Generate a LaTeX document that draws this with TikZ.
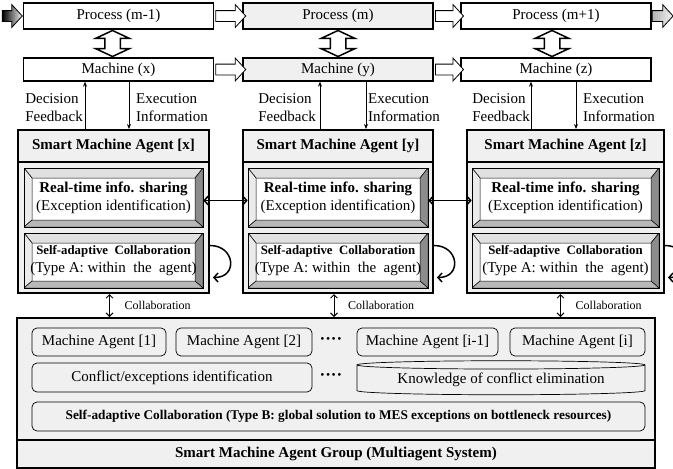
\documentclass[tikz,border=0pt]{standalone}
\usepackage{fontspec}
\setmainfont{Liberation Serif}
\usetikzlibrary{positioning,calc,arrows.meta,shapes.arrows,shapes.geometric}

\begin{document}
\begin{tikzpicture}[x=1pt,y=-1pt]
  \tikzstyle{every node}=[font=\fontsize{15}{18}\selectfont]
  \tikzstyle{stage}=[draw, line width=1.4pt, fill=white, minimum width=190pt, inner sep=0pt]
  \tikzstyle{flow}=[single arrow, draw, fill=white, line width=0.8pt, inner sep=5pt, single arrow head extend=6pt, single arrow tip angle=95]
  \tikzstyle{swap}=[double arrow, draw, fill=white, line width=1.5pt, inner sep=7pt, double arrow head extend=9pt, double arrow tip angle=130, rotate=90, minimum height=26pt]
  \tikzstyle{agent}=[draw, line width=2pt, fill=black!6, minimum height=163pt]
  \tikzstyle{head}=[draw, line width=2pt, fill=black!6, minimum height=32pt, font=\bfseries\fontsize{15}{18}\selectfont]
  \tikzstyle{bevel}=[draw, line width=0.6pt, fill=white, align=center, inner sep=0pt,
    path picture={
      \coordinate (bvA) at (path picture bounding box.north west);
      \coordinate (bvB) at (path picture bounding box.north east);
      \coordinate (bvC) at (path picture bounding box.south east);
      \coordinate (bvD) at (path picture bounding box.south west);
      \coordinate (bvE) at ($(bvA)+(8pt,-10pt)$);
      \coordinate (bvF) at ($(bvB)+(-8pt,-10pt)$);
      \coordinate (bvG) at ($(bvC)+(-8pt,7pt)$);
      \coordinate (bvH) at ($(bvD)+(8pt,7pt)$);
      \filldraw[fill=black!12, line width=0.5pt] (bvA) -- (bvB) -- (bvF) -- (bvE) -- cycle;
      \filldraw[fill=black!8, line width=0.5pt] (bvA) -- (bvE) -- (bvH) -- (bvD) -- cycle;
      \filldraw[fill=black!45, line width=0.5pt] (bvB) -- (bvC) -- (bvG) -- (bvF) -- cycle;
      \filldraw[fill=black!28, line width=0.5pt] (bvD) -- (bvH) -- (bvG) -- (bvC) -- cycle;
    }]
  \tikzstyle{info}=[line width=0.7pt, -{Stealth[length=5pt,width=4pt]}]
  \tikzstyle{lbl}=[inner sep=0pt, align=left]
  \tikzstyle{link}=[line width=1.5pt, {Straight Barb[length=4pt,width=9pt]}-{Straight Barb[length=4pt,width=9pt]}]
  \tikzstyle{selfloop}=[line width=1.5pt, -{Straight Barb[length=4pt,width=9pt]}]
  \tikzstyle{coop}=[line width=0.9pt, {Straight Barb[length=3.5pt,width=7pt]}-{Straight Barb[length=3.5pt,width=7pt]}]
  \tikzstyle{coopnote}=[anchor=west, inner sep=0pt, font=\fontsize{12}{14}\selectfont]
  \tikzstyle{group}=[draw, line width=2pt, fill=black!6, minimum width=638pt]
  \tikzstyle{unit}=[draw, rounded corners=5pt, fill=black!6, line width=0.7pt, minimum height=28pt, inner sep=0pt]
  \tikzstyle{ellip}=[inner sep=0pt, font=\bfseries\fontsize{17}{18}\selectfont]

  \useasboundingbox (0,0) rectangle (673,469);

  % processes and machines
  \node[stage, minimum height=26pt] (pm1) at (118.5,16) {Process (m-1)};
  \node[stage, minimum height=26pt, fill=black!6] (pm) at (338,16) {Process (m)};
  \node[stage, minimum height=26pt] (pp1) at (556,16) {Process (m+1)};
  \node[stage, minimum height=23pt] (mx) at (118.5,69.5) {Machine (x)};
  \node[stage, minimum height=23pt, fill=black!6] (my) at (338,69.5) {Machine (y)};
  \node[stage, minimum height=23pt] (mz) at (556,69.5) {Machine (z)};

  \node[flow, anchor=tip, minimum height=20pt, left color=black, middle color=black!35, right color=black!6] (inp) at (pm1.west) {};
  \node[flow, anchor=tail, minimum height=21pt, left color=black!30, right color=black!5] (outp) at (pp1.east) {};
  \node[flow, minimum height=30pt] (f1) at ($(pm1.east)!.5!(pm.west)$) {};
  \node[flow, minimum height=28pt] (f2) at ($(pm.east)!.5!(pp1.west)$) {};
  \node[flow, minimum height=30pt] (g1) at ($(mx.east)!.5!(my.west)$) {};
  \node[flow, minimum height=28pt] (g2) at ($(my.east)!.5!(mz.west)$) {};

  \node[swap] (s1) at ($(pm1.south)!.5!(mx.north)+(-6,0)$) {};
  \node[swap] (s2) at ($(pm.south)!.5!(my.north)$) {};
  \node[swap] (s3) at ($(pp1.south)!.5!(mz.north)+(-4,0)$) {};

  % smart machine agents
  \node[agent, minimum width=191pt] (agx) at (113.5,211.5) {};
  \node[head, minimum width=191pt] (hdx) at (113.5,146) {Smart Machine Agent [x]};
  \node[bevel, minimum width=179pt, minimum height=59pt] (rtx) at (113.5,197.5) {\textbf{Real-time info. sharing}\\(Exception identification)};
  \node[bevel, minimum width=179pt, minimum height=55pt] (sax) at (113.5,260.5) {{\bfseries\fontsize{12.8}{15}\selectfont Self-adaptive\ \ Collaboration}\\(Type A: within\ \ the\ \ agent)};

  \node[agent, minimum width=190pt] (agy) at (338,211.5) {};
  \node[head, minimum width=190pt] (hdy) at (338,146) {Smart Machine Agent [y]};
  \node[bevel, minimum width=180pt, minimum height=59pt] (rty) at (338,197.5) {\textbf{Real-time info. sharing}\\(Exception identification)};
  \node[bevel, minimum width=180pt, minimum height=55pt] (say) at (338,260.5) {{\bfseries\fontsize{12.8}{15}\selectfont Self-adaptive\ \ Collaboration}\\(Type A: within\ \ the\ \ agent)};

  \node[agent, minimum width=197pt] (agz) at (565.5,211.5) {};
  \node[head, minimum width=197pt] (hdz) at (565.5,146) {Smart Machine Agent [z]};
  \node[bevel, minimum width=187pt, minimum height=59pt] (rtz) at (565.5,197.5) {\textbf{Real-time info. sharing}\\(Exception identification)};
  \node[bevel, minimum width=187pt, minimum height=55pt] (saz) at (565.5,260.5) {{\bfseries\fontsize{12.8}{15}\selectfont Self-adaptive\ \ Collaboration}\\(Type A: within\ \ the\ \ agent)};

  \draw[link] ([yshift=-3]rtx.east) -- ([yshift=-3]rty.west);
  \draw[link] ([yshift=-3]rty.east) -- ([yshift=-3]rtz.west);

  \draw[selfloop] ($(agx.east |- sax.east)+(0,-15)$) to[out=0,in=0,looseness=2] ($(agx.east |- sax.east)+(3,17)$);
  \draw[selfloop] ($(agy.east |- say.east)+(0,-15)$) to[out=0,in=0,looseness=2] ($(agy.east |- say.east)+(3,17)$);
  \draw[selfloop] ($(agz.east |- saz.east)+(0,-15)$) to[out=0,in=0,looseness=2] ($(agz.east |- saz.east)+(3,17)$);

  % feedback and execution
  \draw[info] ([xshift=-28.5]hdx.north) -- ([xshift=-28.5]hdx.north |- mx.south);
  \draw[info] ([xshift=15.5]hdx.north |- mx.south) -- ([xshift=15.5]hdx.north);
  \node[lbl, anchor=east] at ($(hdx.north)!.5!(hdx.north |- mx.south)+(-30.5,2)$) {Decision\\Feedback};
  \node[lbl, anchor=west] at ($(hdx.north)!.5!(hdx.north |- mx.south)+(22.5,2)$) {Execution\\Information};

  \draw[info] ([xshift=-18]hdy.north) -- ([xshift=-18]hdy.north |- my.south);
  \draw[info] ([xshift=28]hdy.north |- my.south) -- ([xshift=28]hdy.north);
  \node[lbl, anchor=east] at ($(hdy.north)!.5!(hdy.north |- my.south)+(-22,2)$) {Decision\\Feedback};
  \node[lbl, anchor=west] at ($(hdy.north)!.5!(hdy.north |- my.south)+(30,2)$) {Execution\\Information};

  \draw[info] ([xshift=-34.5]hdz.north) -- ([xshift=-34.5]hdz.north |- mz.south);
  \draw[info] ([xshift=10.5]hdz.north |- mz.south) -- ([xshift=10.5]hdz.north);
  \node[lbl, anchor=east] at ($(hdz.north)!.5!(hdz.north |- mz.south)+(-35.5,2)$) {Decision\\Feedback};
  \node[lbl, anchor=west] at ($(hdz.north)!.5!(hdz.north |- mz.south)+(17.5,2)$) {Execution\\Information};

  % agent group
  \node[group, minimum height=122pt] (grp) at (336,379) {};
  \node[group, minimum height=28pt, font=\bfseries\fontsize{15}{18}\selectfont] (grpt) at (336,454) {Smart Machine Agent Group (Multiagent System)};

  \draw[coop] ([xshift=-4]agx.south) -- ([xshift=-4]agx.south |- grp.north);
  \draw[coop] ([xshift=-4]agy.south) -- ([xshift=-4]agy.south |- grp.north);
  \draw[coop] ([xshift=-5]agz.south) -- ([xshift=-5]agz.south |- grp.north);
  \node[coopnote] at ($(agx.south)!.5!(agx.south |- grp.north)+(11,0)$) {Collaboration};
  \node[coopnote] at ($(agy.south)!.5!(agy.south |- grp.north)+(10,0)$) {Collaboration};
  \node[coopnote] at ($(agz.south)!.5!(agz.south |- grp.north)+(10,0)$) {Collaboration};

  \node[unit, minimum width=134pt] (ma1) at (99,342) {Machine Agent [1]};
  \node[unit, minimum width=136pt] (ma2) at (244,342) {Machine Agent [2]};
  \node[ellip] (gap1) at (331,341) {····};
  \node[unit, minimum width=141pt] (mai1) at (427.5,342) {Machine Agent [i-1]};
  \node[unit, minimum width=135pt] (mai) at (577.5,342) {Machine Agent [i]};
  \node[unit, minimum width=280pt, minimum height=29pt] (conf) at (172,377.5) {Conflict/exceptions identification};
  \node[ellip] (gap2) at (331,377) {····};
  \node[cylinder, shape border rotate=90, aspect=0.04, draw, fill=black!6, line width=0.7pt, minimum width=288pt, minimum height=34pt, inner sep=0pt] (know) at (501,380) {Knowledge of conflict elimination};
  \node[unit, minimum width=613pt, minimum height=29pt, font=\bfseries\fontsize{13.3}{15}\selectfont] (typb) at (338.5,416.5) {Self-adaptive Collaboration (Type B: global solution to MES exceptions on bottleneck resources)};
\end{tikzpicture}
\end{document}
